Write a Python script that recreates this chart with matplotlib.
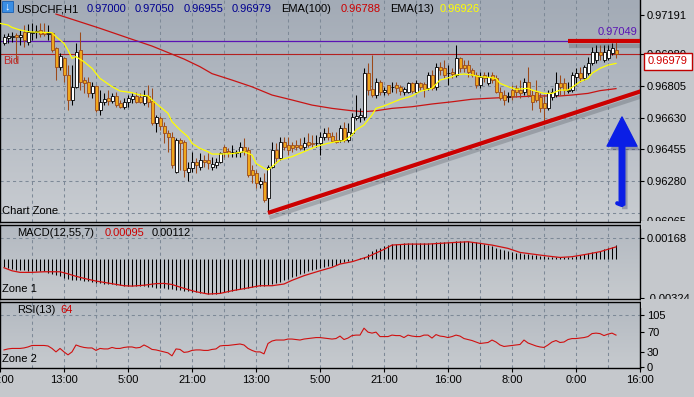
import numpy as np
import matplotlib
matplotlib.use('Agg')
import matplotlib.pyplot as plt
import matplotlib.patheffects as pe
from matplotlib.colors import LinearSegmentedColormap
from matplotlib.patches import Rectangle

plt.rcParams['font.family'] = ['Liberation Sans', 'DejaVu Sans']
plt.rcParams['font.size'] = 8

W, H = 694, 397

# USDCHF H1 candles, prices in points (1 point = 0.00001)
opens = [
    97036, 97063, 97069, 97081, 97072, 97100, 97045, 97094, 97098, 97109,
    97100, 97087, 97090, 97008, 96908, 96954, 96863, 96726, 96799, 96999,
    96835, 96826, 96762, 96802, 96671, 96713, 96735, 96720, 96748, 96708,
    96689, 96717, 96729, 96748, 96740, 96708, 96748, 96722, 96598, 96626,
    96584, 96543, 96525, 96334, 96507, 96498, 96334, 96352, 96389, 96361,
    96398, 96398, 96361, 96370, 96389, 96471, 96449, 96440, 96434, 96443,
    96471, 96452, 96343, 96325, 96266, 96279, 96188, 96361, 96452, 96407,
    96498, 96480, 96480, 96480, 96480, 96467, 96498, 96492, 96489, 96492,
    96522, 96543, 96529, 96507, 96507, 96571, 96507, 96543, 96626, 96635,
    96635, 96872, 96784, 96753, 96826, 96771, 96808, 96795, 96808, 96795,
    96771, 96771, 96817, 96771, 96817, 96813, 96790, 96863, 96795, 96908,
    96899, 96872, 96881, 96863, 96954, 96917, 96917, 96890, 96863, 96808,
    96863, 96817, 96863, 96844, 96771, 96753, 96740, 96780, 96790, 96780,
    96771, 96826, 96753, 96771, 96744, 96708, 96680, 96740, 96753, 96817,
    96817, 96775, 96780, 96853, 96872, 96844, 96872, 96926, 96945, 96990,
    96945, 96954, 96985, 97000]
highs = [
    97087, 97090, 97100, 97090, 97109, 97136, 97141, 97145, 97136, 97145,
    97145, 97136, 97100, 97017, 96981, 96963, 96917, 96917, 97036, 97100,
    96853, 96853, 96826, 96808, 96780, 96762, 96780, 96762, 96771, 96726,
    96735, 96753, 96762, 96771, 96762, 96780, 96808, 96790, 96644, 96638,
    96607, 96562, 96553, 96516, 96516, 96507, 96389, 96443, 96407, 96434,
    96425, 96438, 96416, 96407, 96443, 96480, 96461, 96480, 96452, 96498,
    96516, 96471, 96370, 96343, 96306, 96325, 96370, 96498, 96489, 96525,
    96525, 96525, 96498, 96507, 96516, 96525, 96543, 96534, 96534, 96553,
    96571, 96580, 96553, 96553, 96589, 96607, 96598, 96653, 96753, 96680,
    96899, 96926, 96972, 96844, 96835, 96799, 96808, 96826, 96826, 96808,
    96799, 96826, 96826, 96835, 96826, 96826, 96881, 96890, 96926, 96935,
    96945, 96917, 96899, 97027, 96963, 96945, 96945, 96899, 96881, 96881,
    96881, 96881, 96881, 96863, 96799, 96780, 96771, 96808, 96808, 96835,
    96844, 96908, 96780, 96835, 96762, 96753, 96780, 96790, 96881, 96863,
    96844, 96826, 96881, 96899, 96908, 96917, 96963, 97017, 97027, 97027,
    97027, 97027, 97036, 97050]
lows = [
    97027, 97036, 97045, 96935, 97027, 97017, 97027, 97054, 97063, 97072,
    97076, 97054, 96990, 96835, 96890, 96826, 96671, 96698, 96790, 96780,
    96762, 96744, 96735, 96662, 96644, 96698, 96698, 96708, 96689, 96680,
    96675, 96689, 96708, 96708, 96708, 96698, 96689, 96589, 96553, 96562,
    96489, 96443, 96352, 96325, 96343, 96306, 96285, 96334, 96325, 96343,
    96361, 96347, 96343, 96352, 96379, 96416, 96416, 96416, 96416, 96416,
    96425, 96306, 96270, 96243, 96243, 96170, 96106, 96352, 96379, 96398,
    96452, 96425, 96443, 96452, 96452, 96452, 96471, 96471, 96471, 96425,
    96507, 96507, 96498, 96489, 96498, 96498, 96498, 96534, 96616, 96607,
    96616, 96753, 96744, 96735, 96753, 96753, 96753, 96771, 96762, 96753,
    96753, 96762, 96762, 96762, 96780, 96744, 96780, 96780, 96780, 96863,
    96844, 96808, 96844, 96853, 96881, 96881, 96853, 96853, 96790, 96790,
    96826, 96808, 96817, 96762, 96726, 96698, 96717, 96726, 96744, 96735,
    96753, 96744, 96671, 96717, 96662, 96607, 96671, 96726, 96744, 96753,
    96753, 96762, 96771, 96808, 96826, 96835, 96863, 96917, 96926, 96945,
    96935, 96945, 96972, 96955]
closes = [
    97072, 97076, 97076, 97069, 97081, 97054, 97100, 97100, 97103, 97087,
    97087, 97094, 96999, 96908, 96966, 96863, 96726, 96799, 96990, 96826,
    96817, 96762, 96802, 96671, 96717, 96731, 96722, 96748, 96698, 96689,
    96717, 96735, 96748, 96717, 96717, 96748, 96717, 96598, 96631, 96584,
    96543, 96525, 96370, 96507, 96492, 96343, 96352, 96389, 96370, 96398,
    96385, 96379, 96376, 96389, 96434, 96443, 96434, 96441, 96443, 96471,
    96449, 96316, 96316, 96270, 96285, 96179, 96361, 96452, 96407, 96498,
    96471, 96452, 96461, 96467, 96461, 96489, 96480, 96483, 96492, 96525,
    96543, 96525, 96503, 96498, 96571, 96507, 96553, 96635, 96638, 96644,
    96872, 96780, 96753, 96826, 96771, 96780, 96762, 96799, 96790, 96777,
    96786, 96817, 96775, 96821, 96799, 96784, 96863, 96790, 96908, 96890,
    96863, 96875, 96868, 96954, 96899, 96899, 96881, 96863, 96808, 96853,
    96844, 96853, 96835, 96771, 96735, 96726, 96748, 96748, 96771, 96762,
    96826, 96753, 96717, 96726, 96680, 96680, 96762, 96771, 96817, 96799,
    96780, 96780, 96863, 96872, 96844, 96908, 96930, 96990, 96990, 96972,
    96990, 96999, 97008, 96979]

# EMA lines (bar index, price points)
ema13_k = [-1, 1, 2, 4, 6, 7, 10, 12, 13, 15, 16, 17, 18, 20, 22, 24, 27, 29, 32, 34,
           36, 37, 39, 41, 42, 44, 46, 47, 49, 51, 52, 54, 57, 60, 62, 63, 65, 66, 67, 69,
           72, 75, 78, 81, 83, 85, 87, 88, 90, 92, 93, 95, 97, 99, 102, 104, 107, 109, 112, 113,
           115, 117, 119, 121, 123, 124, 126, 128, 131, 132, 135, 137, 139, 141, 142, 144, 146, 147, 149, 151,
           153]
ema13_v = [97145, 97136, 97123, 97109, 97100, 97098, 97096, 97094, 97072, 97036,
           96999, 96954, 96963, 96935, 96899, 96844, 96799, 96775, 96766, 96753,
           96748, 96726, 96689, 96653, 96607, 96562, 96525, 96489, 96461, 96443,
           96430, 96430, 96432, 96443, 96425, 96379, 96352, 96343, 96361, 96398,
           96416, 96443, 96471, 96489, 96498, 96503, 96534, 96562, 96589, 96644,
           96680, 96693, 96711, 96729, 96748, 96773, 96790, 96835, 96853, 96863,
           96868, 96863, 96853, 96850, 96844, 96817, 96799, 96784, 96790, 96780,
           96762, 96762, 96780, 96780, 96795, 96826, 96844, 96872, 96899, 96917,
           96926]
ema100_k = [13, 24, 32, 37, 45, 49, 52, 57, 62, 67, 72, 77, 82, 87, 90, 93, 97, 102, 107, 112,
            117, 121, 129, 134, 139, 142, 146, 149, 153]
ema100_v = [97196, 97118, 97058, 97021, 96950, 96908, 96870, 96835, 96798, 96753,
            96726, 96698, 96680, 96667, 96662, 96667, 96680, 96689, 96704, 96716,
            96730, 96735, 96744, 96748, 96748, 96753, 96762, 96777, 96788]

# MACD(12,55,7): histogram per bar and signal line (units of 0.00001)
macd_hist = [
    -70, -78, -84, -90, -94, -97, -99, -100, -100, -102, -104,
    -115, -125, -135, -145, -155, -165, -172, -176, -178, -182,
    -186, -190, -196, -200, -205, -208, -212, -216, -220, -222,
    -224, -225, -226, -228, -228, -230, -234, -237, -240, -242,
    -245, -250, -254, -258, -262, -266, -270, -275, -279, -283,
    -287, -290,
    -288, -282, -276, -270, -264, -258, -252, -246, -240, -233, -229, -226,
    -222, -218, -210, -200, -190, -178, -166, -152, -140,
    -128, -116, -105, -97, -88, -80, -72, -65, -58, -50,
    -36, -28, -20, -13, -5, 3, 15, 38, 58, 75,
    90, 103, 110, 116, 119, 121, 123, 124, 125, 126,
    127, 128, 129, 130, 131, 132, 134, 136, 139, 142,
    143, 143, 142, 138, 133, 127, 120, 110, 100, 90,
    80, 70, 62, 55, 48, 42, 38, 34, 31, 27,
    23, 18, 14, 11, 9, 9, 10, 12, 15, 20,
    27, 34, 42, 50, 57, 64, 74, 86, 98, 112]
signal_k = [0, 2, 4, 7, 10, 14, 16, 18, 20, 23, 26, 30, 32, 35, 38, 40, 42, 45, 48, 51,
            54, 57, 60, 64, 67, 70, 72, 75, 79, 82, 84, 87, 91, 95, 97, 101, 106, 109, 113, 116,
            119, 122, 126, 129, 132, 136, 139, 142, 146, 149, 153]
signal_v = [-75, -100, -113, -113, -108, -108, -125, -145, -162, -184,
            -200, -222, -225, -218, -205, -203, -212, -244, -271, -290,
            -285, -263, -246, -222, -222, -208, -178, -140, -100, -72,
            -45, -26, 15, 75, 110, 118, 118, 124, 132, 137,
            124, 110, 83, 50, 37, 20, 9, 15, 37, 56, 95]

# RSI(13) per bar
rsi = [
    34, 36, 37, 37, 37, 38, 40, 43, 43, 43,
    43, 42, 37, 30, 37, 30, 24, 30, 44, 41,
    39, 38, 38, 33, 37, 36, 36, 39, 37, 37,
    39, 40, 40, 38, 39, 44, 40, 35, 34, 32,
    30, 28, 22, 36, 35, 29, 30, 33, 34, 34,
    33, 33, 35, 36, 42, 43, 43, 44, 45, 46,
    44, 37, 33, 30, 30, 26, 47, 52, 54, 54,
    54, 56, 56, 55, 54, 56, 57, 58, 59, 59,
    58, 57, 56, 57, 62, 55, 58, 63, 64, 64,
    78, 70, 68, 70, 61, 61, 61, 64, 63, 63,
    59, 64, 62, 61, 61, 64, 64, 58, 65, 62,
    61, 59, 61, 64, 62, 57, 55, 53, 50, 47,
    48, 49, 54, 50, 44, 41, 42, 43, 44, 45,
    54, 48, 45, 42, 40, 39, 44, 50, 53, 49,
    50, 55, 57, 57, 58, 59, 61, 67, 68, 67,
    63, 66, 68, 64]

time_k = [-1, 15, 31, 47, 63, 79, 95, 111, 127, 143, 159]
time_labels = ['21:00', '13:00', '5:00', '21:00', '13:00', '5:00',
               '21:00', '16:00', '8:00', '0:00', '16:00']
price_ticks = [0.97191, 0.96980, 0.96805, 0.96630, 0.96455, 0.96280, 0.96065]
price_grid = [0.96980, 0.96805, 0.96630, 0.96455, 0.96280, 0.96105]
macd_ticks = [0.00168, -0.00324]
rsi_ticks = [105, 70, 30, 0]

bid = 0.96979
level = 0.97049
trend_k = [66, 159.4]
trend_p = [0.96108, 0.96775]
level_k = [141, 159]
arrow_k = 154.5
arrow_from, arrow_to = 0.96151, 0.96633

o = np.array(opens) / 1e5
h = np.array(highs) / 1e5
l = np.array(lows) / 1e5
c = np.array(closes) / 1e5
k = np.arange(len(o))

GRID = dict(color='#7d8997', lw=0.75, ls=(0, (3, 3)), zorder=1)
fig = plt.figure(figsize=(W / 100, H / 100), dpi=100)
fig.patch.set_facecolor('#c5c8cc')


def panel(top, bottom, c_top, c_bot):
    ax = fig.add_axes([0, 1 - bottom / H, 640 / W, (bottom - top) / H])
    grad = np.linspace(0, 1, 64).reshape(-1, 1)
    cmap = LinearSegmentedColormap.from_list('bg', [c_top, c_bot])
    ax.imshow(grad, cmap=cmap, extent=[0, 1, 0, 1], transform=ax.transAxes,
              aspect='auto', zorder=-10, interpolation='bilinear')
    for j in range(1, 20):
        ax.axvline(8 * j - 1, **GRID)
    for s in ax.spines.values():
        s.set_color('black')
        s.set_linewidth(1)
    ax.yaxis.tick_right()
    ax.tick_params(axis='y', length=3, width=0.8, pad=2, labelsize=8)
    ax.tick_params(axis='x', bottom=False, labelbottom=False)
    return ax


def px(x, y):
    return x / W, 1 - y / H


# ---- main price panel ----
ax = panel(0, 221.5, '#a3abb6', '#c8ccd1')
ax.spines['top'].set_visible(False)
for g in price_grid:
    ax.axhline(g, **GRID)

ax.plot(ema100_k, np.array(ema100_v) / 1e5, color='#c81414', lw=0.9, zorder=2)
ax.axhline(level, color='#5a14b4', lw=0.9, zorder=2)
ax.axhline(bid, color='#b42020', lw=0.8, zorder=2)

bull = c >= o
wick_col = np.where(bull, 'black', '#9c4a1a')
ax.vlines(k, l, h, colors=wick_col, lw=0.75, zorder=3)
body_h = np.maximum(np.abs(c - o), 0.000015)
ax.bar(k, body_h, bottom=np.minimum(o, c), width=0.75,
       color=np.where(bull, 'white', '#efa81c'), edgecolor=wick_col,
       linewidth=0.6, zorder=4)
ax.plot(ema13_k, np.array(ema13_v) / 1e5, color='#ffff00', lw=0.9, zorder=5)

shadow = [pe.SimpleLineShadow(offset=(1, -3.5), shadow_color='#3c424a', alpha=0.25), pe.Normal()]
ax.plot(trend_k, trend_p, color='#cc0000', lw=3, solid_capstyle='butt',
        path_effects=shadow, zorder=6)
ax.plot(level_k, [level, level], color='#cc0000', lw=3, solid_capstyle='butt',
        path_effects=shadow, zorder=6)
ax.annotate('', xy=(arrow_k, arrow_to), xytext=(arrow_k, arrow_from),
            arrowprops=dict(arrowstyle='simple,head_length=2.1,head_width=2.15,tail_width=0.4',
                            mutation_scale=10, shrinkA=0, shrinkB=0,
                            fc='#0a1ee6', ec='#0a1ee6',
                            path_effects=[pe.SimplePatchShadow(offset=(2, -3), alpha=0.25), pe.Normal()]),
            zorder=7)
ax.plot([arrow_k, arrow_k - 1.2], [arrow_from, arrow_from + 0.0001], color='#0a1ee6',
        lw=3, solid_capstyle='round', zorder=7)

ax.set_xlim(-1, 159)
ax.set_ylim(0.96061, 0.97273)
ax.set_yticks(price_ticks)
ax.set_yticklabels([f'{v:.5f}' for v in price_ticks])

# ---- MACD panel ----
ax2 = panel(224.5, 298.7, '#b3b9c1', '#c6cace')
ax2.axhline(macd_ticks[0], **GRID)
ax2.vlines(k, 0, np.array(macd_hist) / 1e5, color='black', lw=0.75, zorder=3)
ax2.plot(signal_k, np.array(signal_v) / 1e5, color='#d01010', lw=0.9, zorder=4)
ax2.set_xlim(-1, 159)
ax2.set_ylim(-0.00328, 0.00278)
ax2.set_yticks(macd_ticks)
ax2.set_yticklabels([f'{v:.5f}' for v in macd_ticks])

# ---- RSI panel ----
ax3 = panel(301.5, 367.7, '#b3b9c1', '#c6cace')
ax3.axhline(rsi_ticks[0], **GRID)
ax3.plot(k, rsi, color='#d01010', lw=0.8, zorder=4)
ax3.set_xlim(-1, 159)
ax3.set_ylim(-2, 132)
ax3.set_yticks(rsi_ticks)
ax3.set_yticklabels([str(v) for v in rsi_ticks])
ax3.set_xticks(time_k)
ax3.set_xticklabels(time_labels)
ax3.tick_params(axis='x', bottom=True, labelbottom=True, length=3, width=0.8,
                pad=2.5, labelsize=8)

# covers for the clipped axis labels between panels
for y0, y1 in [(221.5, 229), (298.7, 307.5)]:
    fig.add_artist(Rectangle(px(640.5, y1), 54 / W, (y1 - y0) / H,
                             transform=fig.transFigure, fc='#c5c8cc', ec='none', zorder=10))

# price box for bid
fig.add_artist(Rectangle(px(644, 69.5), 48 / W, 16.5 / H, transform=fig.transFigure,
                         fc='white', ec='#c00000', lw=1, zorder=11))
fig.text(*px(668, 61.5), '0.96979', color='#d00000', ha='center', va='center',
         fontsize=8, zorder=12)

# title row
fig.add_artist(Rectangle(px(2, 12), 11 / W, 11 / H, transform=fig.transFigure,
                         fc='#3a8ee4', ec='#1a5fb0', lw=0.6, zorder=11))
fig.text(*px(7.5, 6.5), '\u2193', color='white', ha='center', va='center',
         fontsize=8, fontweight='bold', zorder=12)
title_items = [(16, 'USDCHF,H1', 'black'), (87, '0.97000', '#000090'),
               (135, '0.97050', '#000090'), (184, '0.96955', '#000090'),
               (232, '0.96979', '#000090'), (281, 'EMA(100)', 'black'),
               (341, '0.96788', '#cc0000'), (390, 'EMA(13)', 'black'),
               (440, '0.96926', '#ffff00')]
for x, s, col in title_items:
    fig.text(*px(x, 12.5), s, color=col, ha='left', va='baseline', fontsize=8)

fig.text(*px(637, 32), '0.97049', color='#5a14b4', ha='right', va='center', fontsize=8)
fig.text(*px(3, 61.5), 'Bid', color='#c02828', ha='left', va='center', fontsize=8)
fig.text(*px(2, 211.5), 'Chart Zone', ha='left', va='center', fontsize=8)

fig.text(*px(17, 233.5), 'MACD(12,55,7)', ha='left', va='center', fontsize=8)
fig.text(*px(105, 233.5), '0.00095', color='#cc0000', ha='left', va='center', fontsize=8)
fig.text(*px(152, 233.5), '0.00112', ha='left', va='center', fontsize=8)
fig.text(*px(2, 288.5), 'Zone 1', ha='left', va='center', fontsize=8)

fig.text(*px(17, 310), 'RSI(13)', ha='left', va='center', fontsize=8)
fig.text(*px(60, 310), '64', color='#cc0000', ha='left', va='center', fontsize=8)
fig.text(*px(2, 358.5), 'Zone 2', ha='left', va='center', fontsize=8)

fig.savefig('out.png', dpi=100, facecolor=fig.get_facecolor())
